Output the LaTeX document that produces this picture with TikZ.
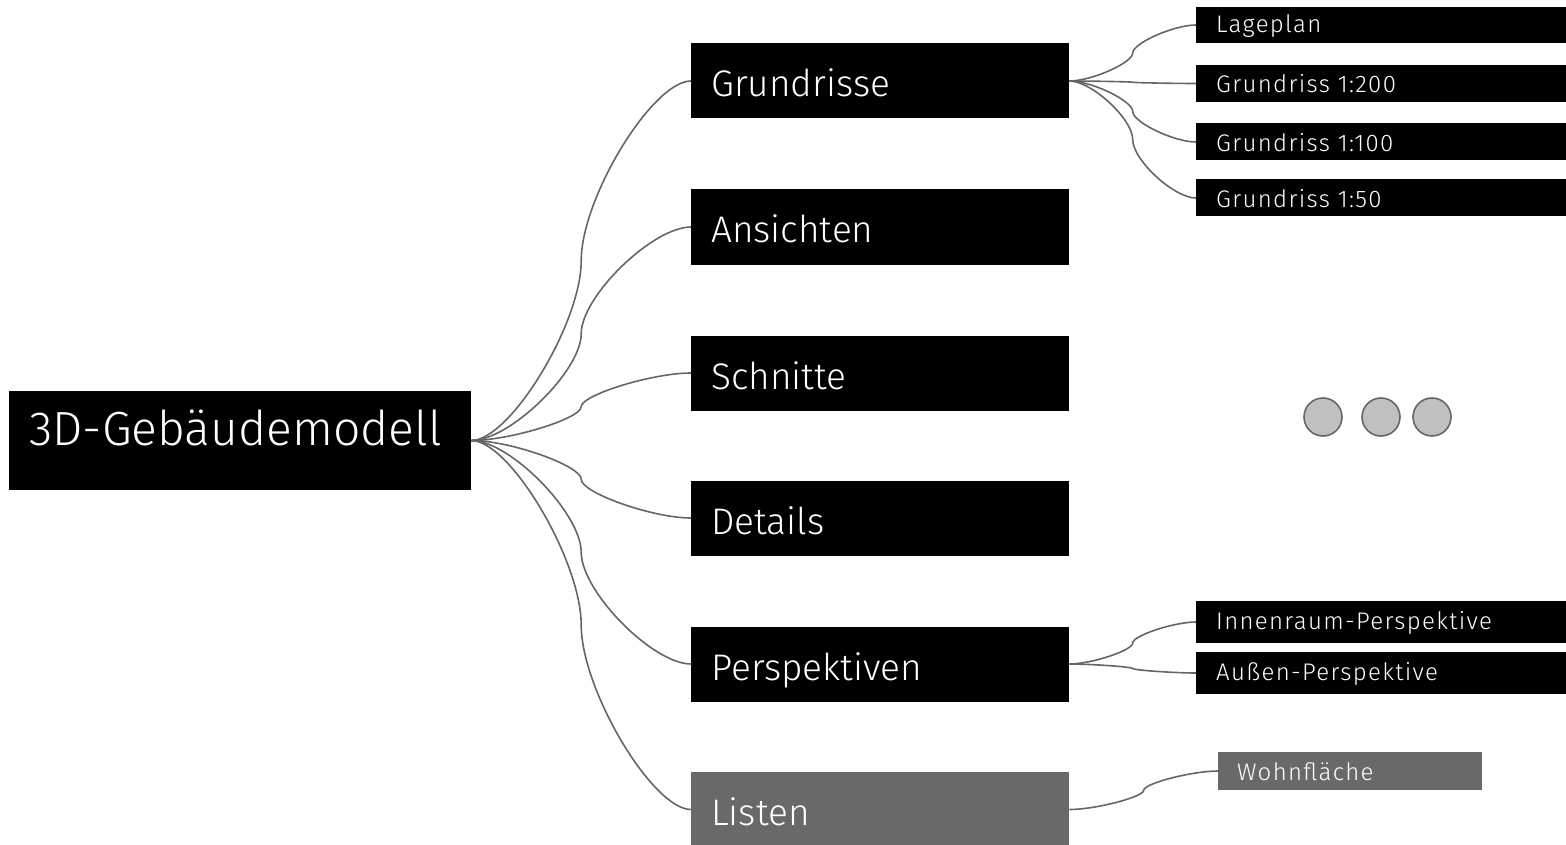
\documentclass[tikz,border=0pt]{standalone}
\usepackage{fontspec}
\setmainfont{Fira Sans Light}
\newfontfamily\leaffont{Fira Sans Light}[LetterSpace=5.5]
\usetikzlibrary{calc}
\definecolor{linegray}{HTML}{666666}
\definecolor{boxgray}{HTML}{696969}
\definecolor{dotfill}{HTML}{C0C0C0}
\tikzset{
  conn/.style={draw=linegray, line width=1.6pt},
  rootbox/.style={fill=black, text=white, anchor=west, inner ysep=0pt, inner xsep=20pt,
    minimum width=462pt, minimum height=99pt, text width=422pt, align=left,
    font=\fontsize{48}{48}\selectfont, text height=9pt, text depth=0pt},
  midbox/.style={fill=black, text=white, anchor=west, inner ysep=0pt, inner xsep=20pt,
    minimum width=378pt, minimum height=75pt, text width=338pt, align=left,
    font=\fontsize{37}{37}\selectfont, text height=32pt, text depth=0pt},
  leafbox/.style={fill=black, text=white, anchor=west, inner ysep=0pt, inner xsep=20pt,
    minimum width=370pt, minimum height=37pt, text width=330pt, align=left,
    font=\leaffont\fontsize{24}{24}\selectfont, text height=18pt, text depth=0pt},
  graybox/.style={fill=boxgray, text=white},
  dot/.style={circle, draw=linegray, line width=1.6pt, fill=dotfill, minimum size=38pt, inner sep=0pt}
}
\newcommand\link[2]{%
  \draw[conn] let \p1=(#1), \p2=(#2) in (\p1)
    .. controls ({\x1+0.175*(\x2-\x1)},\y1) and ({(\x1+\x2)/2},{\y1+0.325*(\y2-\y1)})
    .. ({(\x1+\x2)/2},{(\y1+\y2)/2})
    .. controls ({(\x1+\x2)/2},{\y1+0.675*(\y2-\y1)}) and ({\x2-0.175*(\x2-\x1)},\y2)
    .. (\p2);}
\begin{document}
\begin{tikzpicture}[x=1pt, y=-1pt]
\useasboundingbox (0,0) rectangle (1566,845);
% root
\node[rootbox] (root) at (9,440.5) {3D-Gebäudemodell};
% middle level
\node[midbox] (grund) at (691,81) {Grundrisse};
\node[midbox] (ansi) at (691,227) {Ansichten};
\node[midbox] (schn) at (691,373) {Schnitte};
\node[midbox] (det) at (691,518) {Details};
\node[midbox] (persp) at (691,664) {Perspektiven};
\node[midbox, graybox, text height=31pt] (list) at (691,809.5) {Listen};
% leaves
\node[leafbox, minimum height=36pt, text height=16pt] (lage) at (1196,25) {Lageplan};
\node[leafbox, text height=19pt] (g200) at (1196,83.5) {Grundriss 1:200};
\node[leafbox, text height=19pt] (g100) at (1196,142) {Grundriss 1:100};
\node[leafbox, text height=19pt] (g50) at (1196,198) {Grundriss 1:50};
\node[leafbox, minimum height=42pt, text height=14pt] (innen) at (1196,622) {Innenraum-Perspektive};
\node[leafbox, minimum height=42pt, text height=14pt] (aussen) at (1196,673) {Außen-Perspektive};
\node[leafbox, graybox, minimum width=264pt, minimum height=38pt, text width=226pt, inner xsep=19pt, text height=18pt] (wohn) at (1218,771) {Wohnfläche};
% dots
\node[dot] (d1) at (1323,417) {};
\node[dot] (d2) at (1381,417) {};
\node[dot] (d3) at (1432,417) {};
% connectors
\link{root.east}{grund.west}
\link{root.east}{ansi.west}
\link{root.east}{schn.west}
\link{root.east}{det.west}
\link{root.east}{persp.west}
\link{root.east}{list.west}
\link{grund.east}{lage.west}
\link{grund.east}{g200.west}
\link{grund.east}{g100.west}
\link{grund.east}{g50.west}
\link{persp.east}{innen.west}
\link{persp.east}{aussen.west}
\link{list.east}{wohn.west}
\end{tikzpicture}
\end{document}
